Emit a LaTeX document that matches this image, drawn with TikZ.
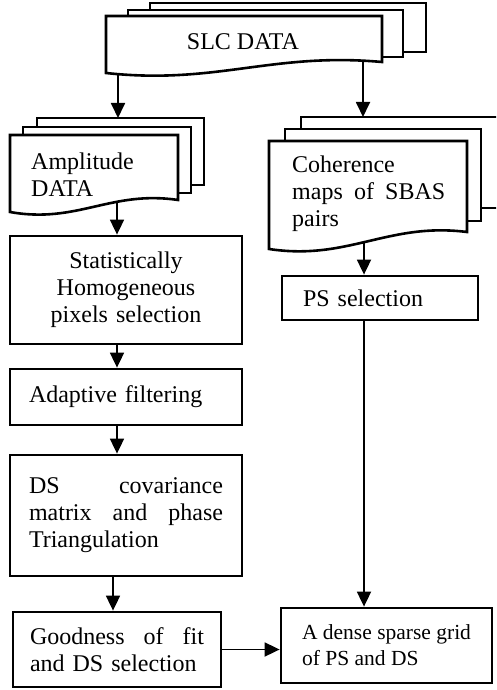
\documentclass[tikz,border=0pt]{standalone}
\usepackage{fontspec}
\setmainfont{Liberation Serif}
\usetikzlibrary{arrows.meta, positioning}

% front page of a stack: left, top, right, bottom at left, bottom at right
\newcommand{\wavysheet}[5]{%
  \draw[sheet] (#1,#4) -- (#1,#2) -- (#3,#2) -- (#3,#5)
    .. controls ({#1+0.6*(#3-#1)},{#5-10}) and ({#1+0.4*(#3-#1)},{#4+12}) .. (#1,#4) -- cycle;}

\begin{document}
\begin{tikzpicture}
  [
    x=1pt, y=-1pt,
    font=\fontsize{24}{27}\selectfont,
    sheet/.style={draw=black, fill=white, line width=2.6pt},
    Box/.style={rectangle, draw=black, line width=2.8pt, inner ysep=0pt, minimum height=#1},
    arr/.style={-{Triangle[length=15pt, width=14pt]}, line width=1.8pt}
  ]
  \clip (0,0) rectangle (496,690);
  % Boxes
  \node[Box=108pt, align=center, text width=194pt, inner xsep=19pt] (stat) at (126,290) {Statistically\\Homogeneous\\pixels selection};
  \node[Box=56pt, align=left, text width=194pt, inner xsep=19pt] (adapt) at (126,397) {Adaptive filtering};
  \node[Box=121pt, align=left, text width=194pt, inner xsep=19pt] (ds) at (126,515.5) {DS\hfill covariance\\matrix\hfill and\hfill phase\\Triangulation};
  \node[Box=75pt, align=left, text width=174pt, inner xsep=17pt] (good) at (117,649.5) {Goodness\hfill of\hfill fit\\and DS selection};
  \node[Box=75pt, align=left, minimum width=211pt, font=\fontsize{21.5}{26}\selectfont] (dense) at (386.5,645.5) {A dense sparse grid\\of PS and DS};
  \node[Box=44pt, align=left, text width=154pt, inner xsep=21pt] (ps) at (380,298) {PS selection};
  % Points on the stacks
  \coordinate (slc-l) at (118,60);
  \coordinate (slc-r) at (363,55);
  \coordinate (amp-top) at (118,118);
  \coordinate (amp-in) at (117,195);
  \coordinate (coh-top) at (363,117);
  \coordinate (coh-in) at (364,225);
  \coordinate (gd) at (113,600);
  % Lines
  \draw[arr] (slc-l) -- (amp-top);
  \draw[arr] (slc-r) -- (coh-top);
  \draw[arr] (amp-in) -- (amp-in |- stat.north);
  \draw[arr] (stat.south -| amp-in) -- (adapt.north -| amp-in);
  \draw[arr] (adapt.south -| amp-in) -- (ds.north -| amp-in);
  \draw[arr] (ds.south -| gd) -- (good.north -| gd);
  \draw[arr] (good.east) -- (dense.west |- good.east);
  \draw[arr] (coh-in) -- (coh-in |- ps.north);
  \draw[arr] (ps.south -| coh-in) -- (dense.north -| coh-in);
  % SLC stack
  \draw[sheet] (150,3) rectangle (426,52);
  \draw[sheet] (128,10) rectangle (403,57);
  \wavysheet{106}{16}{382}{73}{62}
  \node (slc) at (243,42) {SLC DATA};
  % Amplitude stack
  \draw[sheet] (37,118) rectangle (204,185);
  \draw[sheet] (23,127) rectangle (191,193);
  \wavysheet{10}{135}{178}{212}{200}
  \node[align=left, anchor=west, inner sep=0pt] (amp) at (31,175) {Amplitude\\DATA};
  % Coherence stack
  \draw[sheet] (301,117) rectangle (530,208);
  \draw[sheet] (285,129) rectangle (481,221);
  \wavysheet{269}{141}{467}{249}{232}
  \node[align=left, anchor=west, text width=153pt, inner sep=0pt] (coh) at (292,194) {Coherence\\maps\hfill of\hfill SBAS\\pairs};
\end{tikzpicture}
\end{document}
